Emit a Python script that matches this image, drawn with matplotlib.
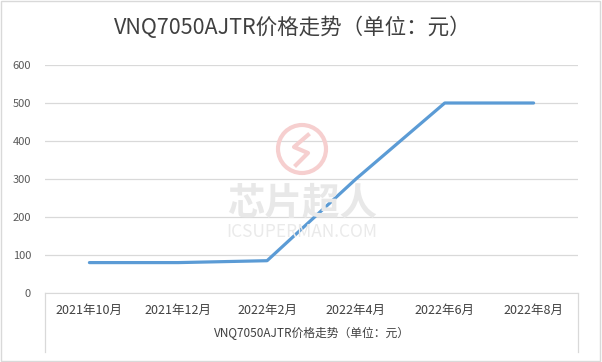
import matplotlib.pyplot as plt
from matplotlib.patches import Ellipse, Rectangle
from matplotlib.lines import Line2D

plt.rcParams['font.family'] = ['Noto Sans CJK SC', 'DejaVu Sans']

# data
months = ['2021年10月', '2021年12月', '2022年2月', '2022年4月', '2022年6月', '2022年8月']
prices = [80, 80, 85, 300, 500, 500]
y_ticks = [0, 100, 200, 300, 400, 500, 600]
title = 'VNQ7050AJTR价格走势（单位：元）'

W, H = 602, 362
fig = plt.figure(figsize=(W / 100, H / 100), dpi=100)
ax = fig.add_axes([45 / W, 1 - 293 / H, 533 / W, 228 / H])

x = list(range(len(months)))
ax.plot(x, prices, color='#5B9BD5', linewidth=2.3, solid_capstyle='round', zorder=3)

ax.set_xlim(-0.5, len(months) - 0.5)
ax.set_ylim(0, 600)
ax.set_yticks(y_ticks)
ax.set_xticks(x)
ax.set_xticklabels(months)
ax.grid(axis='y', color='#D9D9D9', linewidth=0.9)
ax.set_axisbelow(True)
for s in ['left', 'right', 'top']:
    ax.spines[s].set_visible(False)
ax.spines['bottom'].set_color('#D9D9D9')
ax.tick_params(axis='y', length=0, pad=10, labelsize=8, labelcolor='#595959')
ax.tick_params(axis='x', length=0, pad=8, labelsize=9, labelcolor='#404040')
ax.set_xlabel(title, fontsize=8.5, color='#404040', labelpad=7)

# box lines under the category axis
for xe in (0, 1):
    ax.add_line(Line2D([xe, xe], [0, -59 / 228], transform=ax.transAxes,
                       color='#D9D9D9', linewidth=0.9, clip_on=False))

fig.text(0.487, 1 - 28 / H, title, ha='center', va='center', fontsize=15.5, color='#404040')

# faint watermark
cx, cy = 302, 149
fig.patches.append(Ellipse((cx / W, 1 - cy / H), 48 / W, 48 / H, transform=fig.transFigure,
                           fill=False, edgecolor='#F6CFCF', linewidth=3))
zx = [cx + 6, cx - 8, cx + 6, cx - 6]
zy = [cy - 14, cy - 2, cy + 4, cy + 16]
fig.lines.append(Line2D([v / W for v in zx], [1 - v / H for v in zy], transform=fig.transFigure,
                        color='#F6CFCF', linewidth=3))
fig.text(cx / W, 1 - 203 / H, '芯片超人', ha='center', va='center', fontsize=27,
         fontweight='bold', style='italic', color='#E8E8E8', zorder=0)
fig.text(cx / W, 1 - 232 / H, 'ICSUPERMAN.COM', ha='center', va='center', fontsize=12.5,
         color='#EAEAEA', zorder=0)

fig.patches.append(Rectangle((0.002, 0.003), 0.995, 0.993, transform=fig.transFigure,
                             fill=False, edgecolor='#D9D9D9', linewidth=1))

fig.savefig('out.png', dpi=100)
